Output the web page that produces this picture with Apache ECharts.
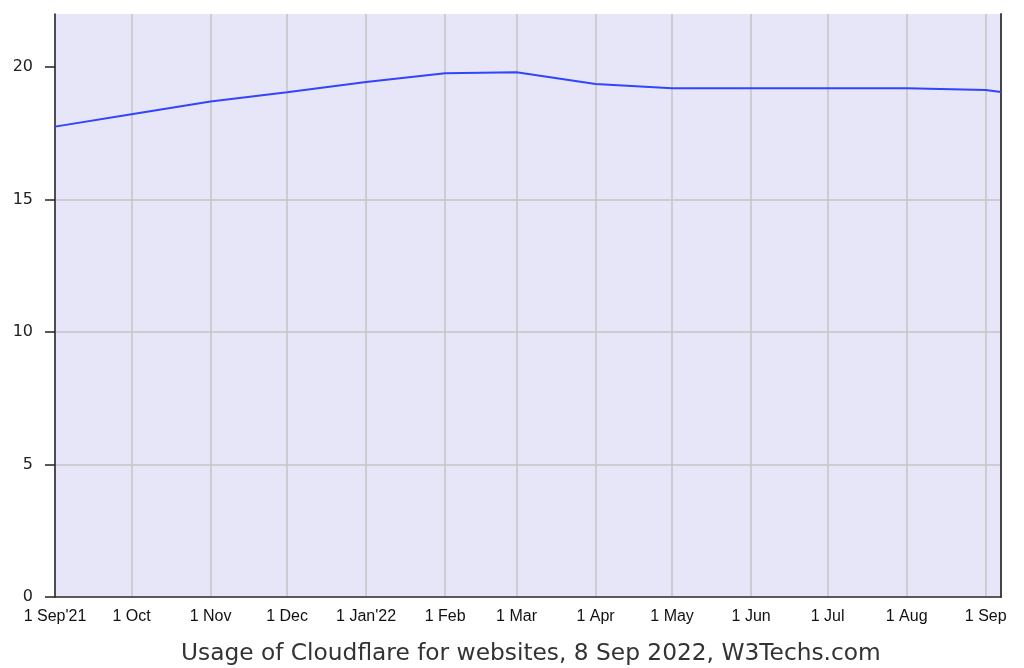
<!DOCTYPE html>
<html><head><meta charset="utf-8">
<script src="https://cdn.jsdelivr.net/npm/echarts@6/dist/echarts.min.js"></script>
<style>html,body{margin:0;padding:0;background:#fff}#c{width:1024px;height:668px}</style>
</head><body><div id="c"></div>
<script>
const dates = ['2021-09-01','2021-10-01','2021-11-01','2021-12-01','2022-01-01','2022-02-01','2022-03-01','2022-04-01','2022-05-01','2022-06-01','2022-07-01','2022-08-01','2022-09-01','2022-09-07'];
const usage = [17.75, 18.22, 18.70, 19.05, 19.43, 19.76, 19.80, 19.36, 19.20, 19.20, 19.20, 19.20, 19.13, 19.06];
const tickDates = ['2021-09-01','2021-10-01','2021-11-01','2021-12-01','2022-01-01','2022-02-01','2022-03-01','2022-04-01','2022-05-01','2022-06-01','2022-07-01','2022-08-01','2022-09-01'];
const tickLabels = ["1 Sep'21","1 Oct","1 Nov","1 Dec","1 Jan'22","1 Feb","1 Mar","1 Apr","1 May","1 Jun","1 Jul","1 Aug","1 Sep"];
const yTicks = [0,5,10,15,20];
const title = 'Usage of Cloudflare for websites, 8 Sep 2022, W3Techs.com';

const DAY = 86400000;
const ts = s => { const [y,m,d] = s.split('-').map(Number); return Date.UTC(y, m-1, d) / DAY; };
const tickTs = tickDates.map(ts);

const chart = echarts.init(document.getElementById('c'));
chart.setOption({
  animation: false,
  grid: { left: 55, right: 23, top: 14, bottom: 71, show: true, backgroundColor: '#e6e6f8', borderWidth: 0 },
  title: { text: title, left: 176, top: 637, textStyle: { fontFamily: 'DejaVu Sans', fontSize: 23.3, fontWeight: 'normal', color: '#333' } },
  xAxis: {
    type: 'value', min: ts('2021-09-01'), max: ts('2022-09-07'),
    axisLine: { show: true, onZero: false, lineStyle: { color: '#333', width: 1.5 } },
    axisTick: { show: false, customValues: tickTs },
    axisLabel: {
      customValues: tickTs, margin: 12, color: '#111', fontFamily: 'Liberation Sans', fontSize: 16,
      hideOverlap: false, showMinLabel: true, showMaxLabel: true,
      formatter: v => { const i = tickTs.indexOf(v); return i >= 0 ? tickLabels[i] : ''; }
    },
    splitLine: { show: true, lineStyle: { color: '#c4c4c4', width: 1.5 } }
  },
  yAxis: [{
    type: 'value', min: 0, max: 22, interval: 5,
    axisLine: { show: true, lineStyle: { color: '#222', width: 1.5 } },
    axisTick: { show: true, length: 10, customValues: yTicks, lineStyle: { color: '#222', width: 1.5 } },
    axisLabel: { customValues: yTicks, margin: 22, color: '#222', fontFamily: 'DejaVu Sans', fontSize: 16 },
    splitLine: { show: true, showMaxLine: false, lineStyle: { color: '#c4c4c4', width: 1.5 } }
  }, {
    type: 'value', position: 'right', min: 0, max: 22,
    axisLine: { show: true, lineStyle: { color: '#444', width: 2 } },
    axisTick: { show: false }, axisLabel: { show: false }, splitLine: { show: false }
  }],
  series: [{
    type: 'line', showSymbol: false, symbol: 'none',
    data: dates.map((d, i) => [ts(d), usage[i]]),
    lineStyle: { color: '#3344ff', width: 2 }
  }]
});
</script></body></html>
